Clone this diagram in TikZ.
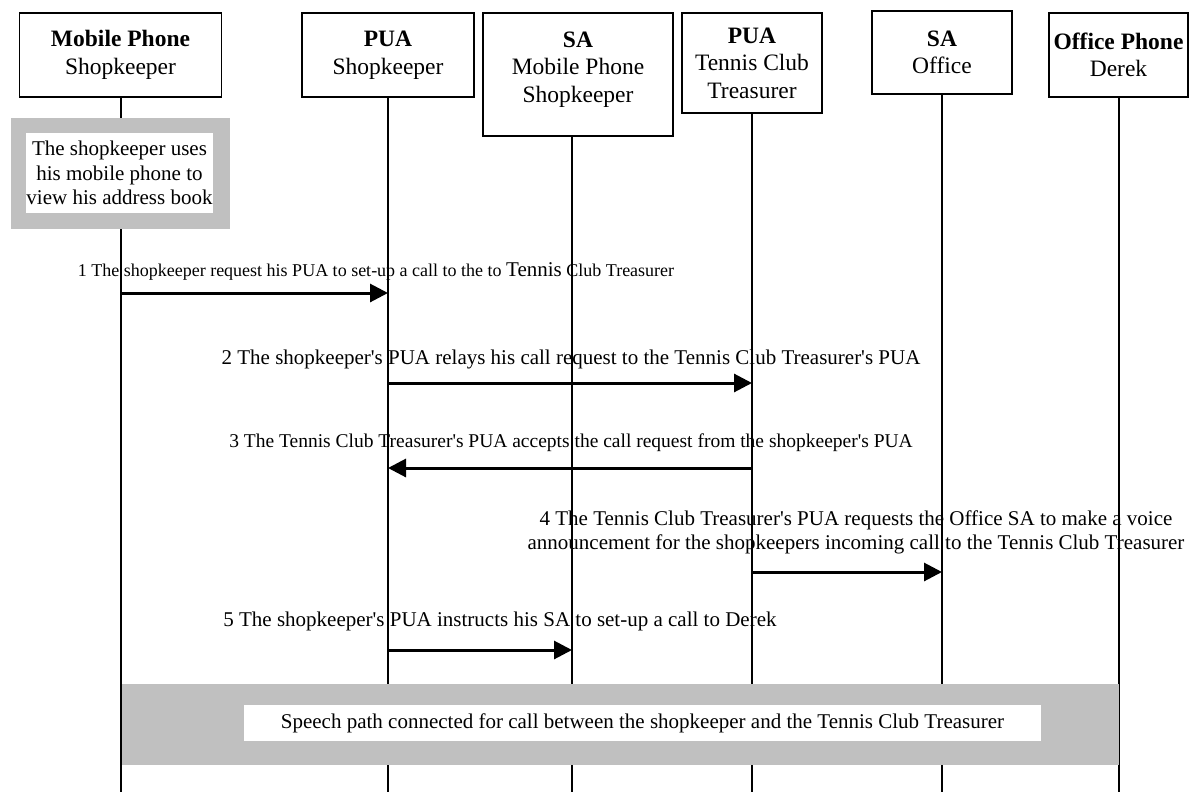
\documentclass[tikz,border=0pt]{standalone}
\usepackage{fontspec}
\setmainfont{Liberation Serif}
\usetikzlibrary{arrows.meta}
\definecolor{bandgrey}{RGB}{192,192,192}
\begin{document}
\begin{tikzpicture}[x=1pt,y=-1pt,
  actor/.style={draw, line width=1.3pt, fill=white, align=center, inner sep=0pt,
    font=\fontsize{23.5}{27.5}\selectfont},
  life/.style={line width=1.3pt},
  msg/.style={line width=3pt, -{Triangle[length=18pt,width=18pt]}},
  lbl/.style={inner sep=0pt, anchor=base, align=center, font=\fontsize{21}{24}\selectfont},
  greybox/.style={fill=bandgrey, inner sep=0pt},
  whitebox/.style={fill=white, inner sep=0pt, align=center, font=\fontsize{21}{24.5}\selectfont}
]
\useasboundingbox (0,0) rectangle (1189,792);

% actors
\node[actor, minimum width=202, minimum height=84] (mp) at (120.5,55) {\textbf{Mobile Phone}\\Shopkeeper};
\node[actor, minimum width=172, minimum height=84] (puas) at (388,55) {\textbf{PUA}\\Shopkeeper};
\node[actor, minimum width=190, minimum height=123, text depth=15pt] (sas) at (578,74.5) {\textbf{SA}\\Mobile Phone\\Shopkeeper};
\node[actor, minimum width=140, minimum height=100] (puat) at (752,63) {\textbf{PUA}\\Tennis Club\\Treasurer};
\node[actor, minimum width=140, minimum height=83] (sao) at (942,52.5) {\textbf{SA}\\Office};
\node[actor, minimum width=139, minimum height=84] (op) at (1118.5,55) {\textbf{Office Phone}\\Derek};

% lifeline tops
\coordinate (mpL) at ([xshift=0.5pt]mp.south);
\coordinate (puasL) at (puas.south);
\coordinate (sasL) at ([xshift=-6pt]sas.south);
\coordinate (puatL) at (puat.south);
\coordinate (saoL) at (sao.south);
\coordinate (opL) at ([xshift=0.5pt]op.south);

\foreach \l in {mpL,puasL,sasL,puatL,saoL,opL}
  \draw[life] (\l) -- (\l |- 0,792);

% note on the left
\node[greybox, minimum width=219, minimum height=111] (note) at (120.5,173.5) {};
\node[whitebox, minimum width=187, minimum height=80] (notetext) at (119.5,173) {The shopkeeper uses\\his mobile phone to\\view his address book};

% messages
\node[lbl, font=\fontsize{18}{21}\selectfont] (m1) at (376,276) {1 The shopkeeper request his PUA to set-up a call to the to {\fontsize{21}{24}\selectfont Tennis} Club Treasurer};
\draw[msg] (mpL |- 0,293) -- (puasL |- 0,293);

\node[lbl] (m2) at (571,364) {2 The shopkeeper\textquotesingle s PUA relays his call request to the Tennis Club Treasurer\textquotesingle s PUA};
\draw[msg] (puasL |- 0,383) -- (puatL |- 0,383);

\node[lbl, font=\fontsize{19.5}{23}\selectfont] (m3) at (571,447) {3 The Tennis Club Treasurer\textquotesingle s PUA accepts the call request from the shopkeeper\textquotesingle s PUA};
\draw[msg] (puatL |- 0,468) -- (puasL |- 0,468);

\node[lbl] (m4) at (856,549) {4 The Tennis Club Treasurer\textquotesingle s PUA requests the Office SA to make a voice\\announcement for the shopkeepers incoming call to the Tennis Club Treasurer};
\draw[msg] (puatL |- 0,572) -- (saoL |- 0,572);

\node[lbl] (m5) at (500,626) {5 The shopkeeper\textquotesingle s PUA instructs his SA to set-up a call to Derek};
\draw[msg] (puasL |- 0,650) -- (sasL |- 0,650);

% speech path band
\node[greybox, minimum width=997, minimum height=81] (band) at (620.5,724.5) {};
\node[whitebox, minimum width=797, minimum height=36] (bandtext) at (642.5,723) {Speech path connected for call between the shopkeeper and the Tennis Club Treasurer};
\end{tikzpicture}
\end{document}
